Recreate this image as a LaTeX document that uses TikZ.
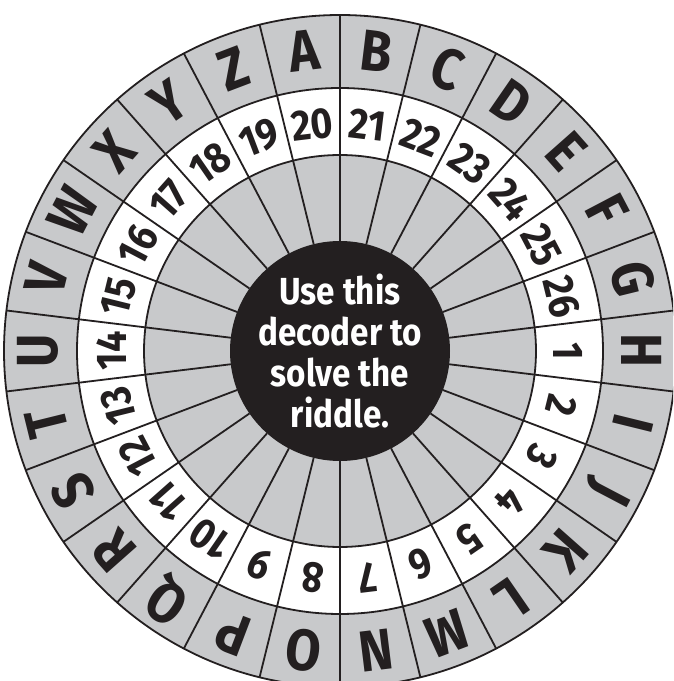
\documentclass[tikz,border=0pt]{standalone}
\usepackage{fontspec}
\setmainfont{Fira Sans}[FakeStretch=0.88]
\definecolor{wheelgray}{RGB}{200,201,203}
\definecolor{ink}{RGB}{35,31,32}
\begin{document}
\begin{tikzpicture}[x=1pt,y=1pt,
  ring/.style={draw=ink, line width=1.8pt},
  letterlbl/.style={text=ink, font=\fontsize{58}{60}\selectfont\bfseries, inner sep=0pt},
  numlbl/.style={text=ink, font=\fontsize{43}{45}\selectfont\bfseries, inner sep=0pt},
  centerlbl/.style={text=white, align=center, font=\fontsize{37.7}{41}\selectfont\bfseries}]
\useasboundingbox (0,0) rectangle (673,681);
\clip (0,0) rectangle (673,681);
\begin{scope}[shift={(340,330)}]
  \fill[wheelgray] (0,0) circle (336);
  \fill[white] (0,0) circle (263);
  \fill[wheelgray] (0,0) circle (196);
  \foreach \j in {0,...,25} \draw[ring] (90+13.846*\j:110) -- (90+13.846*\j:336);
  \draw[ring] (0,0) circle (336) (0,0) circle (263) (0,0) circle (196);
  \fill[ink] (0,0) circle (110);
  \foreach \L [count=\k from 0] in {A,B,C,D,E,F,G,H,I,J,K,L,M,N,O,P,Q,R,S,T,U,V,W,X,Y,Z} {
    \pgfmathsetmacro\a{96.923-13.846*\k}
    \pgfmathtruncatemacro\n{mod(\k+19,26)+1}
    \node[letterlbl, rotate=\a-90] (L\k) at (\a:302) {\L};
    \node[numlbl, rotate=\a-90] (N\k) at (\a:228) {\n};
  }
  \node[centerlbl] (ctr) at (0,0) {Use this\\decoder to\\solve the\\riddle.};
\end{scope}
\end{tikzpicture}
\end{document}
